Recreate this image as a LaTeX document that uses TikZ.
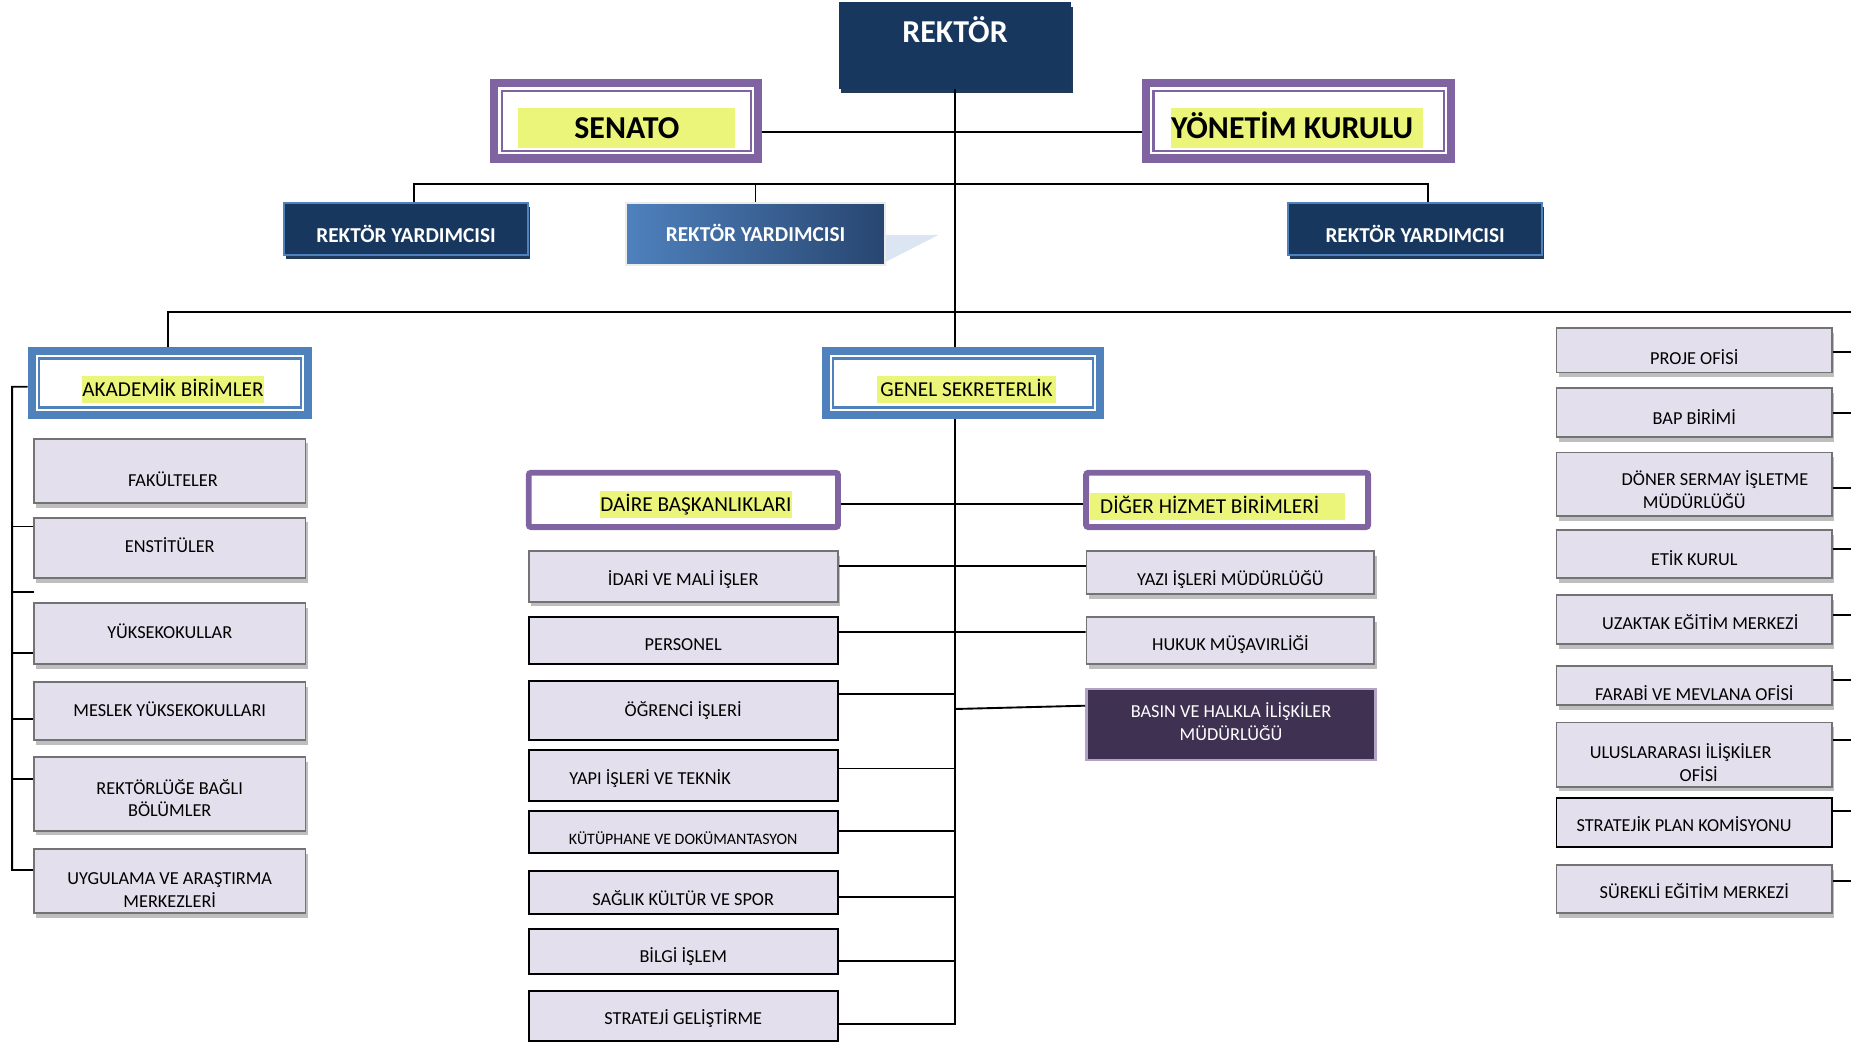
\documentclass[tikz,border=0pt]{standalone}
\usepackage{fontspec}
\setmainfont{Carlito}
\usetikzlibrary{shadows}

\definecolor{navy}{RGB}{23,55,94}
\definecolor{navyd}{RGB}{32,58,92}
\definecolor{rybord}{RGB}{79,129,189}
\definecolor{purp}{RGB}{128,100,162}
\definecolor{blu}{RGB}{79,129,189}
\definecolor{hly}{RGB}{235,245,122}
\definecolor{lav}{RGB}{228,223,236}
\definecolor{boxg}{RGB}{115,115,115}
\definecolor{shd}{RGB}{190,190,190}
\definecolor{basf}{RGB}{63,49,81}
\definecolor{basb}{RGB}{179,162,199}
\definecolor{gradl}{RGB}{79,129,189}
\definecolor{gradd}{RGB}{40,70,112}
\definecolor{tri}{RGB}{220,230,242}

\newcommand\szbig{\fontsize{27}{30}\selectfont\bfseries}
\newcommand\szry{\fontsize{18}{20}\selectfont\bfseries}
\newcommand\szmid{\fontsize{18}{20}\selectfont}
\newcommand\szbox{\fontsize{15.5}{19.2}\selectfont}
\newcommand\szsmall{\fontsize{13.5}{16}\selectfont}

\begin{document}
\begin{tikzpicture}[x=1pt, y=-1pt,
  every node/.style={inner sep=0pt},
  conn/.style={line width=1.6pt},
  ry/.style={fill=navy, draw=rybord, line width=1.5pt, minimum height=44.5pt,
    drop shadow={shadow xshift=1.5pt, shadow yshift=-3.5pt, fill=navyd, opacity=1}},
  rylab/.style={font=\szry, text=white, text height=11.6pt, text depth=0pt},
  dframe/.style={draw=#1, fill=white, line width=7pt},
  sframe/.style={draw=purp, fill=white, line width=5pt, rounded corners=2pt, minimum height=46pt},
  hl/.style={fill=hly, font=\szmid, text height=11.6pt, text depth=0pt, minimum height=22.5pt},
  lbox/.style={fill=lav, draw=boxg, line width=1.6pt,
    drop shadow={shadow xshift=2pt, shadow yshift=-4pt, fill=shd, opacity=1}},
  kbox/.style={fill=lav, draw=black, line width=1.6pt},
  lab/.style={font=\szbox, text height=10pt, text depth=0pt},
  labm/.style={font=\szbox, align=center}
]
\useasboundingbox (0,0) rectangle (1568,882.7);

% top
\node[fill=navy, minimum width=197pt, minimum height=73pt,
  drop shadow={shadow xshift=1.5pt, shadow yshift=-4pt, fill=navyd, opacity=1},
  label={[font=\szbig, text=white, text height=17.4pt, text depth=0pt, yshift=11pt]center:REKTÖR}] (rek) at (809,38.5) {};
\node[dframe=purp, minimum width=223.7pt, minimum height=64pt,
  label={[hl, font=\szbig, text height=17.4pt, minimum width=184pt, minimum height=33.5pt, xshift=0.5pt, yshift=-6pt]center:SENATO}] (sen) at (530.5,102.35) {};
\node[dframe=purp, minimum width=258.7pt, minimum height=64pt,
  label={[hl, font=\szbig, text height=17.4pt, minimum height=33.5pt, xshift=-1.5pt, yshift=-6pt]center:\makebox[213pt][l]{YÖNETİM KURULU}}] (yon) at (1100,102.35) {};

% rektor yardimcilari
\node[ry, minimum width=206.5pt, label={[rylab, yshift=-5.6pt]center:REKTÖR YARDIMCISI}] (ryl) at (344,194) {};
\fill[tri] (750,199) -- (795,199) -- (750,222) -- cycle;
\node[left color=gradl, right color=gradd, draw=black!8, line width=1.5pt, minimum width=220pt, minimum height=52.6pt,
  label={[rylab, yshift=-0.7pt]center:REKTÖR YARDIMCISI}] (rym) at (640,198.3) {};
\node[ry, minimum width=214.9pt, label={[rylab, yshift=-5.6pt]center:REKTÖR YARDIMCISI}] (ryr) at (1198.8,194) {};

% second level
\node[dframe=blu, minimum width=234.4pt, minimum height=54.5pt,
  label={[hl, minimum width=153.7pt, xshift=2.5pt, yshift=-5.3pt]center:AKADEMİK BİRİMLER}] (aka) at (144,324.45) {};
\node[dframe=blu, minimum width=232.6pt, minimum height=54.5pt,
  label={[hl, minimum width=151.6pt, xshift=3pt, yshift=-5.3pt]center:GENEL SEKRETERLİK}] (gen) at (815.8,324.45) {};
\node[sframe, minimum width=262pt,
  label={[hl, minimum width=163pt, xshift=10.6pt, yshift=-3.75pt]center:DAİRE BAŞKANLIKLARI}] (dai) at (578.9,423.5) {};
\node[sframe, minimum width=239pt,
  label={[hl, inner xsep=9pt, minimum height=23pt, xshift=-8.3pt, yshift=-5.5pt]center:\makebox[198.4pt][l]{DİĞER HİZMET BİRİMLERİ}}] (dig) at (1039.5,423.5) {};

\foreach \n/\c in {sen/purp, yon/purp, aka/blu, gen/blu}
  \draw[\c, line width=1.8pt] ([xshift=10pt,yshift=-10pt]\n.north west) rectangle ([xshift=-10pt,yshift=10pt]\n.south east);

% akademik birimler
\node[lbox, minimum width=230pt, minimum height=54.9pt, label={[lab, xshift=2.7pt, yshift=-8.5pt]center:FAKÜLTELER}] (fak) at (143.8,399) {};
\node[lbox, minimum width=230pt, minimum height=51.5pt, label={[lab, yshift=1.2pt]center:ENSTİTÜLER}] (ens) at (143.8,464.2) {};
\node[lbox, minimum width=230pt, minimum height=51.6pt, label={[lab, yshift=1pt]center:YÜKSEKOKULLAR}] (yuk) at (143.8,536.75) {};
\node[lbox, minimum width=230pt, minimum height=49.2pt, label={[lab]center:MESLEK YÜKSEKOKULLARI}] (mes) at (143.8,602.35) {};
\node[lbox, minimum width=230pt, minimum height=62.6pt, label={[labm, yshift=-3.5pt]center:{REKTÖRLÜĞE BAĞLI\\BÖLÜMLER}}] (reb) at (143.8,672.45) {};
\node[lbox, minimum width=230pt, minimum height=54.4pt, label={[labm, yshift=-7.3pt]center:{UYGULAMA VE ARAŞTIRMA\\MERKEZLERİ}}] (uyg) at (143.8,746.55) {};

% daire baskanliklari
\node[lbox, minimum width=262pt, minimum height=43pt, label={[lab, yshift=-2.75pt]center:İDARİ VE MALİ İŞLER}] (ida) at (578.75,488.25) {};
\node[kbox, minimum width=262pt, minimum height=40.1pt, label={[lab, yshift=-3.6pt]center:PERSONEL}] (per) at (578.75,542.8) {};
\node[kbox, minimum width=262pt, minimum height=49.9pt, label={[lab]center:ÖĞRENCİ İŞLERİ}] (ogr) at (578.75,601.7) {};
\node[kbox, minimum width=262pt, minimum height=43pt, label={[lab, xshift=-28pt, yshift=-2.85pt]center:YAPI İŞLERİ VE TEKNİK}] (yap) at (578.75,656.75) {};
\node[kbox, minimum width=262pt, minimum height=36.2pt, label={[lab, font=\szsmall, text height=8.7pt, yshift=-5.85pt]center:KÜTÜPHANE VE DOKÜMANTASYON}] (kut) at (578.75,704.85) {};
\node[kbox, minimum width=262pt, minimum height=36.3pt, label={[lab, yshift=-6.5pt]center:SAĞLIK KÜLTÜR VE SPOR}] (sag) at (578.75,755.9) {};
\node[kbox, minimum width=262pt, minimum height=38.1pt, label={[lab, yshift=-4.2pt]center:BİLGİ İŞLEM}] (bil) at (578.75,806.2) {};
\node[kbox, minimum width=262pt, minimum height=42.3pt, label={[lab, yshift=-2.7pt]center:STRATEJİ GELİŞTİRME}] (str) at (578.75,860.5) {};

% diger hizmet birimleri
\node[lbox, minimum width=243.9pt, minimum height=36.5pt, label={[lab, yshift=-6pt]center:YAZI İŞLERİ MÜDÜRLÜĞÜ}] (yaz) at (1042.3,485) {};
\node[lbox, minimum width=243.9pt, minimum height=39.9pt, label={[lab, yshift=-3.7pt]center:HUKUK MÜŞAVIRLİĞİ}] (huk) at (1042.3,542.7) {};
\node[fill=basf, draw=basb, line width=2pt, minimum width=245pt, minimum height=60pt,
  label={[labm, text=white, yshift=2.8pt]center:{BASIN VE HALKLA İLİŞKİLER\\MÜDÜRLÜĞÜ}}] (bas) at (1042.8,613.8) {};

% sag sutun
\node[lbox, minimum width=233.4pt, minimum height=37.5pt, label={[lab, yshift=-6.7pt]center:PROJE OFİSİ}] (pro) at (1435.25,296.8) {};
\node[lbox, minimum width=233.4pt, minimum height=41.3pt, label={[lab, yshift=-5.3pt]center:BAP BİRİMİ}] (bap) at (1435.25,349.4) {};
\node[lbox, minimum width=233.4pt, minimum height=54.1pt, label={[labm, yshift=-4.4pt]center:{\hspace*{35pt}DÖNER SERMAY İŞLETME\\MÜDÜRLÜĞÜ}}] (don) at (1435.25,410.4) {};
\node[lbox, minimum width=233.4pt, minimum height=40.6pt, label={[lab, yshift=-5pt]center:ETİK KURUL}] (eti) at (1435.25,469.45) {};
\node[lbox, minimum width=233.4pt, minimum height=41.5pt, label={[lab, xshift=5pt, yshift=-3.1pt]center:UZAKTAK EĞİTİM MERKEZİ}] (uza) at (1435.25,524.9) {};
\node[lbox, minimum width=233.4pt, minimum height=33pt, label={[lab, yshift=-8.15pt]center:FARABİ VE MEVLANA OFİSİ}] (far) at (1435.25,580.55) {};
\node[lbox, minimum width=233.4pt, minimum height=54.4pt, label={[labm, xshift=3.75pt, yshift=-7pt]center:{ULUSLARARASI İLİŞKİLER\hspace*{30.5pt}\\OFİSİ}}] (ulu) at (1435.25,639.25) {};
\node[kbox, minimum width=233.4pt, minimum height=42.2pt, label={[lab, xshift=-8.65pt, yshift=-2.65pt]center:STRATEJİK PLAN KOMİSYONU}] (sta) at (1435.25,696.75) {};
\node[lbox, minimum width=233.4pt, minimum height=41.1pt, label={[lab, yshift=-2.7pt]center:SÜREKLİ EĞİTİM MERKEZİ}] (sur) at (1435.25,753.2) {};

% connectors
\coordinate (b1) at (350.6,155.6);
\coordinate (b2) at (1209.8,155.6);
\coordinate (h1) at (142,264.3);
\coordinate (h2) at (1568,264.3);
\coordinate (tb) at (809,867.7);
\coordinate (bc) at (809,600.6);
\coordinate (lt) at (10.3,327.6);
\coordinate (lb) at (10.3,737);
\coordinate (st) at (28.8,501.5);

\draw[conn] ([yshift=-9.65pt]sen.east) -- ([yshift=-9.65pt]yon.west);
\draw[conn] (ryl.north -| b1) |- (b2) -- (ryr.north -| b2);
\draw[conn] (rym.north) -- (rym.north |- b1);
\draw[conn] (aka.north -| h1) -- (h1) -- (h2);
\draw[conn] (rek.south) -- (gen.north -| rek.south);
\draw[conn] (gen.south -| tb) -- (tb) -- (tb -| str.east);

\draw[conn] ([yshift=-3.5pt]dai.east) -- ([yshift=-3.5pt]dig.west);
\draw[conn] ([yshift=8.75pt]ida.east) -- ([yshift=5.5pt]yaz.west);
\draw[conn] ([yshift=7.4pt]per.east) -- ([yshift=7.3pt]huk.west);
\foreach \n/\d in {ogr/13.7pt, yap/5.75pt, kut/1.15pt, sag/-4pt, bil/-7.8pt}
  \draw[conn] ([yshift=\d]\n.east) -- ++(99.25,0);
\draw[conn] (bc) -- ([yshift=16pt]bas.west);

\draw[conn] ([yshift=-3.15pt]aka.west) -- (lt) -- (lb) -- ([yshift=9.55pt]uyg.west);
\foreach \n/\d in {ens/18.2pt, yuk/-16.15pt, mes/-6.45pt, reb/12.85pt}
  \draw[conn] ([yshift=\d]\n.west) -- ++(-17.7,0);
\draw[conn] (st) -- (st -| lt);

\foreach \n/\d in {pro/-1.7pt, bap/-0.6pt, don/-3.3pt, eti/4.15pt, uza/3.9pt, far/4.55pt, ulu/12.35pt, sta/10.05pt, sur/6.9pt}
  \draw[conn] ([yshift=\d]\n.east) -- ++(16.5,0);
\end{tikzpicture}
\end{document}
